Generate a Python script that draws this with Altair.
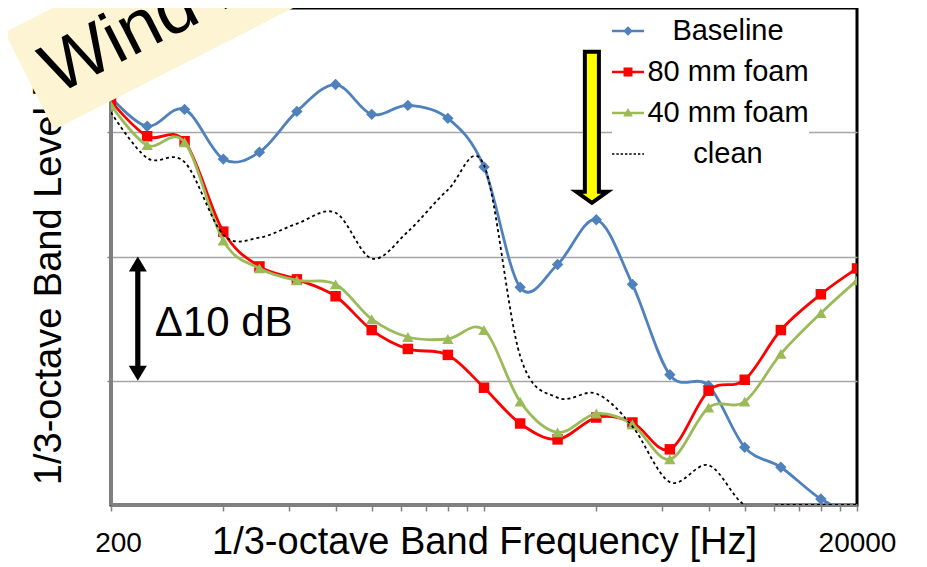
import altair as alt
import pandas as pd

# ---------------- data ----------------
freqs = [200, 250, 315, 400, 500, 630, 800, 1000, 1250, 1600, 2000,
         2500, 3150, 4000, 5000, 6300, 8000, 10000, 12500, 16000, 20000]

baseline = [32.8, 30.48, 31.84, 27.84, 28.4, 31.68, 33.84, 31.44, 32.16, 31.12, 27.2,
            17.52, 19.36, 22.96, 17.76, 10.48, 9.6, 4.64, 3.04, 0.48, -0.8]
foam80 = [32.48, 29.68, 29.28, 22.0, 19.2, 18.16, 16.8, 14.08, 12.56, 12.08, 9.44,
          6.56, 5.28, 7.04, 6.64, 4.48, 9.2, 10.08, 14.08, 16.96, 19.04]
foam40 = [32.16, 28.96, 29.2, 21.28, 19.04, 18.08, 17.76, 14.96, 13.52, 13.36, 14.08,
          8.32, 5.84, 7.36, 6.48, 3.68, 7.84, 8.32, 12.16, 15.44, 18.08]
clean = [31.6, 27.92, 27.6, 21.76, 21.52, 22.64, 23.52, 19.84, 22.0, 25.36, 27.36,
         12.0, 8.64, 8.96, 6.32, 1.84, 3.2, 0.0, 0.0, 0.0, 0.0]

series_names = ["Baseline", "80 mm foam", "40 mm foam", "clean"]
series_colors = ["#4F81BD", "#FF0000", "#9BBB59", "#000000"]

x_ticks = [200, 400, 600, 800, 1000, 1200, 1400, 1600, 1800, 2000,
           4000, 6000, 8000, 10000, 12000, 14000, 16000, 18000, 20000]
y_grid = [10, 20, 30]

x_title = "1/3-octave Band Frequency [Hz]"
y_title = "1/3-octave Band Level [dB]"

delta_label = ["Δ10 dB"]
delta_arrow = {"freq": [236], "level": [15.0]}
delta_text = {"freq": [262], "level": [13.6]}
peak_arrow = {"freq": [3893], "level": [30.4]}
wind_label = ["Wind noise"]
wind_text = {"freq": [143], "level": [33.0]}
wind_box = {"freq": [373], "level": [41.6]}

# ---------------- build tables ----------------
rows = []
for name, vals in zip(series_names, [baseline, foam80, foam40, clean]):
    for f, v in zip(freqs, vals):
        rows.append({"freq": f, "level": v, "series": name})
df = pd.DataFrame(rows)

FONT = "Liberation Sans"
GRAY = "#808080"

xscale = alt.Scale(type="log", domain=[200, 20000], nice=False)
yscale = alt.Scale(domain=[0, 40], nice=False, zero=False)

xaxis = alt.Axis(
    values=x_ticks, format="d",
    labelExpr="(datum.value == 200 || datum.value == 20000) ? datum.label : ''",
    labelFlush=False, labelOverlap=False, labelFont=FONT, labelFontSize=28,
    labelColor="black", labelBaseline="alphabetic", labelPadding=40,
    labelOffset={"condition": {"test": "datum.value == 200", "value": 7}, "value": 0},
    tickSize=6, tickColor=GRAY, tickWidth=1.5,
    domainColor=GRAY, domainWidth=3, grid=False,
    title=x_title, titleFont=FONT, titleFontSize=38, titleFontWeight="normal",
    titleColor="black", titleBaseline="alphabetic", titleY=48,
)
yaxis = alt.Axis(
    values=y_grid, labels=False, tickSize=4, tickColor=GRAY, tickWidth=1.5,
    domainColor=GRAY, domainWidth=3, grid=True, gridColor="#a6a6a6", gridWidth=1.5,
    title=y_title, titleFont=FONT, titleFontSize=38, titleFontWeight="normal",
    titleColor="black", titleBaseline="alphabetic", titleAngle=270, titleX=-51,
)

X = alt.X("freq:Q", scale=xscale, axis=xaxis)
Y = alt.Y("level:Q", scale=yscale, axis=yaxis)

base = alt.Chart(df)

layers = []
markers = {"Baseline": ("diamond", 130), "80 mm foam": ("square", 110), "40 mm foam": ("triangle-up", 130)}
for name, col in zip(series_names[:3], series_colors[:3]):
    shp, sz = markers[name]
    layers.append(
        base.transform_filter(alt.datum.series == name)
        .mark_line(interpolate="cardinal", color=col, strokeWidth=2.8, clip=True,
                   point=alt.OverlayMarkDef(shape=shp, size=sz, filled=True, color=col,
                                            opacity=1, clip=True))
        .encode(x=X, y=Y)
    )
layers.append(
    base.transform_filter(alt.datum.series == "clean")
    .mark_line(interpolate="cardinal", color="black", strokeWidth=1.8,
               strokeDash=[3, 3], clip=True)
    .encode(x=X, y=Y)
)

# legend (explicit scale domain; no marks drawn)
def dash_path():
    parts = []
    x = -1.0
    while x < 1.0:
        x2 = min(x + 0.15, 1.0)
        parts.append(f"M{x:.3f},-0.045H{x2:.3f}V0.045H{x:.3f}Z")
        x += 0.27
    return " ".join(parts)

line_seg = "M-1,-0.08H1V0.08H-1Z"
legend_paths = [
    line_seg + " M0,-0.3L0.3,0L0,0.3L-0.3,0Z",
    line_seg + " M-0.28,-0.28H0.28V0.28H-0.28Z",
    line_seg + " M0,-0.32L0.3,0.22L-0.3,0.22Z",
    dash_path(),
]
leg = alt.Legend(
    title=None, orient="none", legendX=501, legendY=7, padding=0,
    labelFont=FONT, labelFontSize=29, labelColor="black", labelAlign="center",
    labelOffset=84, labelLimit=400, symbolSize=1024, symbolStrokeWidth=0,
    rowPadding=10, fillColor="white",
)
layers.append(
    base.transform_filter("false")
    .mark_point(filled=True, size=1024, opacity=1)
    .encode(
        x=X, y=Y,
        color=alt.Color("series:N", scale=alt.Scale(domain=series_names, range=series_colors), legend=leg),
        shape=alt.Shape("series:N", scale=alt.Scale(domain=series_names, range=legend_paths), legend=leg),
    )
)

# annotations
dbl_arrow = ("M0,-1 L0.145,-0.758 L0.042,-0.758 L0.042,0.758 L0.145,0.758 L0,1 "
             "L-0.145,0.758 L-0.042,0.758 L-0.042,-0.758 L-0.145,-0.758 Z")
layers.append(
    alt.Chart(pd.DataFrame(delta_arrow))
    .mark_point(shape=dbl_arrow, size=15400, filled=True, color="black", opacity=1, strokeWidth=0)
    .encode(x=X, y=Y)
)
layers.append(
    alt.Chart(pd.DataFrame({**delta_text, "t": delta_label}))
    .mark_text(align="left", baseline="alphabetic", font=FONT, fontSize=42, color="black")
    .encode(x=X, y=Y, text="t:N")
)
down_arrow = ("M-0.093,-1 L0.093,-1 L0.093,0.854 L0.205,0.854 L0,1 "
              "L-0.205,0.854 L-0.093,0.854 Z")
layers.append(
    alt.Chart(pd.DataFrame(peak_arrow))
    .mark_point(shape=down_arrow, size=22801, filled=True, fill="#FFFF00", stroke="black",
                strokeWidth=4, strokeJoin="miter", opacity=1)
    .encode(x=X, y=Y)
)
box_path = "M-1,-0.266H1V0.266H-1Z"
layers.append(
    alt.Chart(pd.DataFrame(wind_box))
    .mark_point(shape=box_path, size=168100, angle=333, filled=True, fill="#FCF4D2",
                strokeWidth=0, opacity=1)
    .encode(x=X, y=Y)
)
layers.append(
    alt.Chart(pd.DataFrame({**wind_text, "t": wind_label}))
    .mark_text(align="left", baseline="alphabetic", angle=333, font=FONT, fontSize=72, color="black")
    .encode(x=X, y=Y, text="t:N")
)

chart = (
    alt.layer(*layers)
    .properties(
        width=746, height=497,
        padding={"left": 103, "top": 0, "right": 60, "bottom": 58},
        autosize=alt.AutoSizeParams(type="none"),
    )
    .configure_view(stroke="black", strokeWidth=3)
)

chart.save("out.html", embed_options={"renderer": "svg", "actions": False})
